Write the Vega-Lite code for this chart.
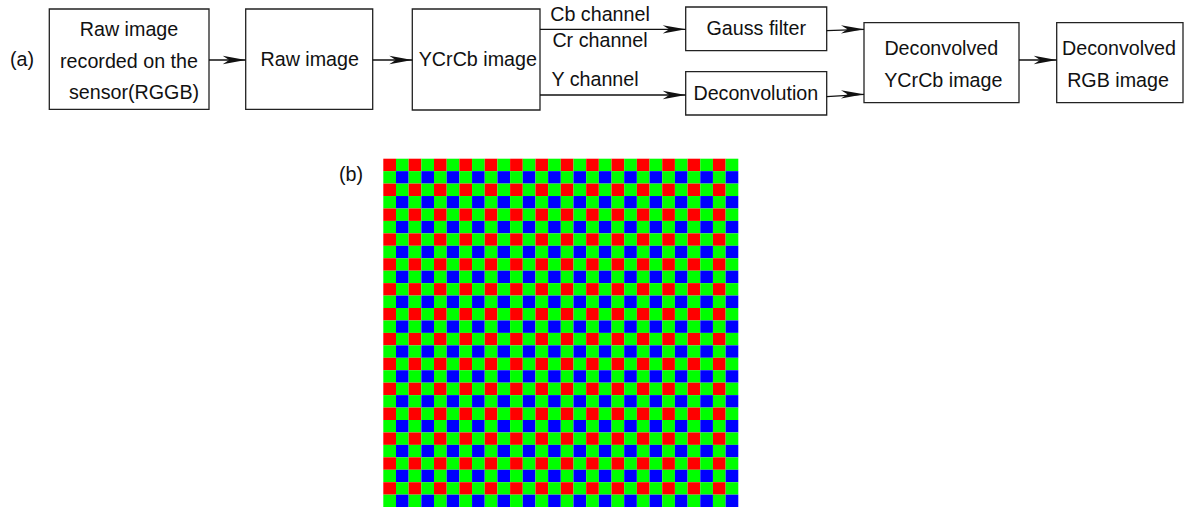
{
  "$schema": "https://vega.github.io/schema/vega-lite/v6.json",
  "width": 1184,
  "height": 507,
  "padding": 0,
  "autosize": {"type": "fit", "contains": "padding"},
  "background": "white",
  "config": {"view": {"stroke": null}, "font": "Liberation Sans"},
  "datasets": {
    "boxes": [
      {"x": 49.3, "x2": 209, "y": 9, "y2": 109.3},
      {"x": 245.7, "x2": 372.7, "y": 9, "y2": 109.3},
      {"x": 412.3, "x2": 540, "y": 9, "y2": 110},
      {"x": 685.7, "x2": 826.7, "y": 7, "y2": 50.7},
      {"x": 685.7, "x2": 826.7, "y": 71.7, "y2": 115},
      {"x": 864, "x2": 1019, "y": 22.7, "y2": 102.7},
      {"x": 1056.7, "x2": 1183, "y": 22.7, "y2": 102.7}
    ],
    "arrows": [
      {"x": 209, "y": 60, "x2": 245.7, "y2": 60},
      {"x": 372.7, "y": 60, "x2": 412.3, "y2": 60},
      {"x": 540, "y": 29.3, "x2": 685.7, "y2": 29.3},
      {"x": 540, "y": 95, "x2": 685.7, "y2": 95},
      {"x": 826.7, "y": 30.7, "x2": 864, "y2": 29.3},
      {"x": 826.7, "y": 96.7, "x2": 864, "y2": 94.3},
      {"x": 1019, "y": 60, "x2": 1056.7, "y2": 60}
    ],
    "labels": [
      {"x": 22, "y": 60, "t": "(a)"},
      {"x": 129, "y": 30, "t": "Raw image"},
      {"x": 129, "y": 61.7, "t": "recorded on the"},
      {"x": 134, "y": 93, "t": "sensor(RGGB)"},
      {"x": 309.7, "y": 60, "t": "Raw image"},
      {"x": 477.8, "y": 59.5, "t": "YCrCb image"},
      {"x": 600, "y": 15, "t": "Cb channel"},
      {"x": 600, "y": 40.7, "t": "Cr channel"},
      {"x": 595, "y": 80, "t": "Y channel"},
      {"x": 756.3, "y": 28.5, "t": "Gauss filter"},
      {"x": 755.8, "y": 93.5, "t": "Deconvolution"},
      {"x": 941.3, "y": 49, "t": "Deconvolved"},
      {"x": 943.3, "y": 81, "t": "YCrCb image"},
      {"x": 1119, "y": 49, "t": "Deconvolved"},
      {"x": 1118, "y": 81, "t": "RGB image"},
      {"x": 351, "y": 175, "t": "(b)"}
    ],
    "bayer": [
      {"r": 0, "c": [0,1,2,3,4,5,6,7,8,9,10,11,12,13,14,15,16,17,18,19,20,21,22,23,24,25,26,27], "k": ["R","G","R","G","R","G","R","G","R","G","R","G","R","G","R","G","R","G","R","G","R","G","R","G","R","G","R","G"]},
      {"r": 1, "c": [0,1,2,3,4,5,6,7,8,9,10,11,12,13,14,15,16,17,18,19,20,21,22,23,24,25,26,27], "k": ["G","B","G","B","G","B","G","B","G","B","G","B","G","B","G","B","G","B","G","B","G","B","G","B","G","B","G","B"]},
      {"r": 2, "c": [0,1,2,3,4,5,6,7,8,9,10,11,12,13,14,15,16,17,18,19,20,21,22,23,24,25,26,27], "k": ["R","G","R","G","R","G","R","G","R","G","R","G","R","G","R","G","R","G","R","G","R","G","R","G","R","G","R","G"]},
      {"r": 3, "c": [0,1,2,3,4,5,6,7,8,9,10,11,12,13,14,15,16,17,18,19,20,21,22,23,24,25,26,27], "k": ["G","B","G","B","G","B","G","B","G","B","G","B","G","B","G","B","G","B","G","B","G","B","G","B","G","B","G","B"]},
      {"r": 4, "c": [0,1,2,3,4,5,6,7,8,9,10,11,12,13,14,15,16,17,18,19,20,21,22,23,24,25,26,27], "k": ["R","G","R","G","R","G","R","G","R","G","R","G","R","G","R","G","R","G","R","G","R","G","R","G","R","G","R","G"]},
      {"r": 5, "c": [0,1,2,3,4,5,6,7,8,9,10,11,12,13,14,15,16,17,18,19,20,21,22,23,24,25,26,27], "k": ["G","B","G","B","G","B","G","B","G","B","G","B","G","B","G","B","G","B","G","B","G","B","G","B","G","B","G","B"]},
      {"r": 6, "c": [0,1,2,3,4,5,6,7,8,9,10,11,12,13,14,15,16,17,18,19,20,21,22,23,24,25,26,27], "k": ["R","G","R","G","R","G","R","G","R","G","R","G","R","G","R","G","R","G","R","G","R","G","R","G","R","G","R","G"]},
      {"r": 7, "c": [0,1,2,3,4,5,6,7,8,9,10,11,12,13,14,15,16,17,18,19,20,21,22,23,24,25,26,27], "k": ["G","B","G","B","G","B","G","B","G","B","G","B","G","B","G","B","G","B","G","B","G","B","G","B","G","B","G","B"]},
      {"r": 8, "c": [0,1,2,3,4,5,6,7,8,9,10,11,12,13,14,15,16,17,18,19,20,21,22,23,24,25,26,27], "k": ["R","G","R","G","R","G","R","G","R","G","R","G","R","G","R","G","R","G","R","G","R","G","R","G","R","G","R","G"]},
      {"r": 9, "c": [0,1,2,3,4,5,6,7,8,9,10,11,12,13,14,15,16,17,18,19,20,21,22,23,24,25,26,27], "k": ["G","B","G","B","G","B","G","B","G","B","G","B","G","B","G","B","G","B","G","B","G","B","G","B","G","B","G","B"]},
      {"r": 10, "c": [0,1,2,3,4,5,6,7,8,9,10,11,12,13,14,15,16,17,18,19,20,21,22,23,24,25,26,27], "k": ["R","G","R","G","R","G","R","G","R","G","R","G","R","G","R","G","R","G","R","G","R","G","R","G","R","G","R","G"]},
      {"r": 11, "c": [0,1,2,3,4,5,6,7,8,9,10,11,12,13,14,15,16,17,18,19,20,21,22,23,24,25,26,27], "k": ["G","B","G","B","G","B","G","B","G","B","G","B","G","B","G","B","G","B","G","B","G","B","G","B","G","B","G","B"]},
      {"r": 12, "c": [0,1,2,3,4,5,6,7,8,9,10,11,12,13,14,15,16,17,18,19,20,21,22,23,24,25,26,27], "k": ["R","G","R","G","R","G","R","G","R","G","R","G","R","G","R","G","R","G","R","G","R","G","R","G","R","G","R","G"]},
      {"r": 13, "c": [0,1,2,3,4,5,6,7,8,9,10,11,12,13,14,15,16,17,18,19,20,21,22,23,24,25,26,27], "k": ["G","B","G","B","G","B","G","B","G","B","G","B","G","B","G","B","G","B","G","B","G","B","G","B","G","B","G","B"]},
      {"r": 14, "c": [0,1,2,3,4,5,6,7,8,9,10,11,12,13,14,15,16,17,18,19,20,21,22,23,24,25,26,27], "k": ["R","G","R","G","R","G","R","G","R","G","R","G","R","G","R","G","R","G","R","G","R","G","R","G","R","G","R","G"]},
      {"r": 15, "c": [0,1,2,3,4,5,6,7,8,9,10,11,12,13,14,15,16,17,18,19,20,21,22,23,24,25,26,27], "k": ["G","B","G","B","G","B","G","B","G","B","G","B","G","B","G","B","G","B","G","B","G","B","G","B","G","B","G","B"]},
      {"r": 16, "c": [0,1,2,3,4,5,6,7,8,9,10,11,12,13,14,15,16,17,18,19,20,21,22,23,24,25,26,27], "k": ["R","G","R","G","R","G","R","G","R","G","R","G","R","G","R","G","R","G","R","G","R","G","R","G","R","G","R","G"]},
      {"r": 17, "c": [0,1,2,3,4,5,6,7,8,9,10,11,12,13,14,15,16,17,18,19,20,21,22,23,24,25,26,27], "k": ["G","B","G","B","G","B","G","B","G","B","G","B","G","B","G","B","G","B","G","B","G","B","G","B","G","B","G","B"]},
      {"r": 18, "c": [0,1,2,3,4,5,6,7,8,9,10,11,12,13,14,15,16,17,18,19,20,21,22,23,24,25,26,27], "k": ["R","G","R","G","R","G","R","G","R","G","R","G","R","G","R","G","R","G","R","G","R","G","R","G","R","G","R","G"]},
      {"r": 19, "c": [0,1,2,3,4,5,6,7,8,9,10,11,12,13,14,15,16,17,18,19,20,21,22,23,24,25,26,27], "k": ["G","B","G","B","G","B","G","B","G","B","G","B","G","B","G","B","G","B","G","B","G","B","G","B","G","B","G","B"]},
      {"r": 20, "c": [0,1,2,3,4,5,6,7,8,9,10,11,12,13,14,15,16,17,18,19,20,21,22,23,24,25,26,27], "k": ["R","G","R","G","R","G","R","G","R","G","R","G","R","G","R","G","R","G","R","G","R","G","R","G","R","G","R","G"]},
      {"r": 21, "c": [0,1,2,3,4,5,6,7,8,9,10,11,12,13,14,15,16,17,18,19,20,21,22,23,24,25,26,27], "k": ["G","B","G","B","G","B","G","B","G","B","G","B","G","B","G","B","G","B","G","B","G","B","G","B","G","B","G","B"]},
      {"r": 22, "c": [0,1,2,3,4,5,6,7,8,9,10,11,12,13,14,15,16,17,18,19,20,21,22,23,24,25,26,27], "k": ["R","G","R","G","R","G","R","G","R","G","R","G","R","G","R","G","R","G","R","G","R","G","R","G","R","G","R","G"]},
      {"r": 23, "c": [0,1,2,3,4,5,6,7,8,9,10,11,12,13,14,15,16,17,18,19,20,21,22,23,24,25,26,27], "k": ["G","B","G","B","G","B","G","B","G","B","G","B","G","B","G","B","G","B","G","B","G","B","G","B","G","B","G","B"]},
      {"r": 24, "c": [0,1,2,3,4,5,6,7,8,9,10,11,12,13,14,15,16,17,18,19,20,21,22,23,24,25,26,27], "k": ["R","G","R","G","R","G","R","G","R","G","R","G","R","G","R","G","R","G","R","G","R","G","R","G","R","G","R","G"]},
      {"r": 25, "c": [0,1,2,3,4,5,6,7,8,9,10,11,12,13,14,15,16,17,18,19,20,21,22,23,24,25,26,27], "k": ["G","B","G","B","G","B","G","B","G","B","G","B","G","B","G","B","G","B","G","B","G","B","G","B","G","B","G","B"]},
      {"r": 26, "c": [0,1,2,3,4,5,6,7,8,9,10,11,12,13,14,15,16,17,18,19,20,21,22,23,24,25,26,27], "k": ["R","G","R","G","R","G","R","G","R","G","R","G","R","G","R","G","R","G","R","G","R","G","R","G","R","G","R","G"]},
      {"r": 27, "c": [0,1,2,3,4,5,6,7,8,9,10,11,12,13,14,15,16,17,18,19,20,21,22,23,24,25,26,27], "k": ["G","B","G","B","G","B","G","B","G","B","G","B","G","B","G","B","G","B","G","B","G","B","G","B","G","B","G","B"]}
    ]
  },
  "layer": [
    {
      "layer": [
        {
          "data": {"name": "boxes"},
          "mark": {"type": "rect", "fill": "white", "stroke": "#222222", "strokeWidth": 1.3},
          "encoding": {
            "x": {"field": "x", "type": "quantitative", "scale": {"domain": [0, 1184], "range": [0, 1184], "nice": false, "zero": false}, "axis": null},
            "x2": {"field": "x2"},
            "y": {"field": "y", "type": "quantitative", "scale": {"domain": [0, 507], "range": [0, 507], "nice": false, "zero": false}, "axis": null},
            "y2": {"field": "y2"}
          }
        },
        {
          "data": {"name": "arrows"},
          "mark": {"type": "rule", "color": "#111111", "strokeWidth": 1.3},
          "encoding": {
            "x": {"field": "x", "type": "quantitative"},
            "x2": {"field": "x2"},
            "y": {"field": "y", "type": "quantitative"},
            "y2": {"field": "y2"}
          }
        },
        {
          "data": {"name": "arrows"},
          "mark": {"type": "point", "shape": "M0,0 L-1,-0.18 L-0.72,0 L-1,0.18 Z", "size": 2116, "filled": true, "fill": "#111111", "opacity": 1, "strokeWidth": 0},
          "encoding": {
            "x": {"field": "x2", "type": "quantitative"},
            "y": {"field": "y2", "type": "quantitative"}
          }
        },
        {
          "data": {"name": "labels"},
          "mark": {"type": "text", "font": "Liberation Sans", "fontSize": 19.7, "color": "#111111", "align": "center", "baseline": "middle"},
          "encoding": {
            "x": {"field": "x", "type": "quantitative"},
            "y": {"field": "y", "type": "quantitative"},
            "text": {"field": "t"}
          }
        }
      ]
    },
    {
      "data": {"name": "bayer"},
      "transform": [{"flatten": ["c", "k"]}],
      "mark": {"type": "rect", "strokeWidth": 0},
      "encoding": {
        "x": {"field": "c", "type": "ordinal", "scale": {"range": [383.3, 738.3], "paddingInner": 0, "paddingOuter": 0}, "axis": null},
        "y": {"field": "r", "type": "ordinal", "scale": {"range": [158.7, 507.1], "paddingInner": 0, "paddingOuter": 0}, "axis": null},
        "color": {"field": "k", "type": "nominal", "scale": {"domain": ["R", "G", "B"], "range": ["#ff0000", "#00ff00", "#0000ff"]}, "legend": null}
      }
    }
  ],
  "resolve": {"scale": {"x": "independent", "y": "independent"}}
}
